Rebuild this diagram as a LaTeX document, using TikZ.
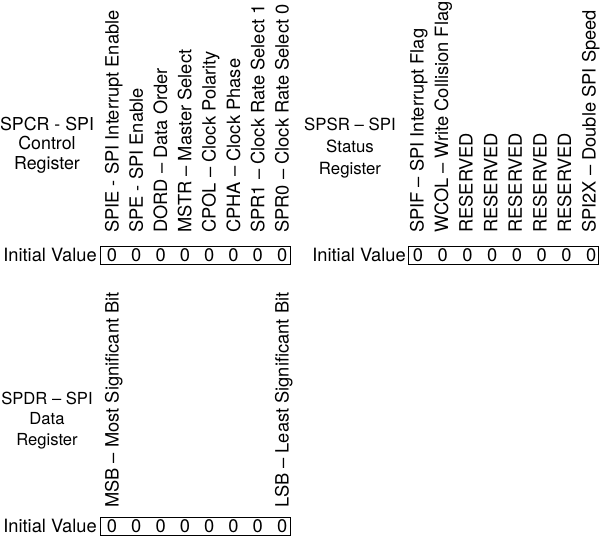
\documentclass[tikz,border=0pt]{standalone}
\usepackage{fontspec}
\setmainfont{TeX Gyre Heros}
\usetikzlibrary{positioning}

\begin{document}
\begin{tikzpicture}[
x=1pt, y=-1pt,
every node/.style={inner sep=0, font=\fontsize{18.3}{21}\selectfont},
bitname/.style={rotate=90, anchor=base west},
bitval/.style={anchor=base},
regbox/.style={draw, line width=1.3pt, minimum width=190pt, minimum height=18pt, anchor=north west},
regtitle/.style={align=center, font=\fontsize{17.8}{19.5}\selectfont}
]
\useasboundingbox (0,0) rectangle (600,539);

% SPCR
\node[regtitle] (spcr) at (47,145) {SPCR - SPI\\Control\\Register};
\node[regbox] (spcrbox) at (100,246) {};
\node[anchor=base east] (spcrinit) at (97,261) {Initial Value};
\foreach \txt [count=\i from 0] in {SPIE - SPI Interrupt Enable, SPE - SPI Enable, DORD -- Data Order, MSTR -- Master Select, CPOL -- Clock Polarity, CPHA -- Clock Phase, SPR1 -- Clock Rate Select 1, SPR0 -- Clock Rate Select 0}
{
  \node[bitval] (spcr\i) at (112+24.3*\i,261) {0};
  \node[bitname] (spcrn\i) at (118.5+24.3*\i,233) {\txt};
}

% SPSR
\node[regtitle, font=\fontsize{16.8}{22}\selectfont] (spsr) at (350,148) {SPSR -- SPI\\Status\\Register};
\node[regbox] (spsrbox) at (408,246) {};
\node[anchor=base east] (spsrinit) at (406,261) {Initial Value};
\foreach \txt [count=\i from 0] in {SPIF -- SPI Interrupt Flag, WCOL -- Write Collision Flag, RESERVED, RESERVED, RESERVED, RESERVED, RESERVED, SPI2X -- Double SPI Speed}
{
  \node[bitval] (spsr\i) at (418+24.75*\i,261) {0};
  \node[bitname] (spsrn\i) at (423.5+24.6*\i,233) {\txt};
}

% SPDR
\node[regtitle, font=\fontsize{16.6}{20.5}\selectfont] (spdr) at (47,420.5) {SPDR -- SPI\\Data\\Register};
\node[regbox] (spdrbox) at (100,517) {};
\node[anchor=base east] (spdrinit) at (97,532) {Initial Value};
\foreach \i in {0,...,7}
  \node[bitval] (spdr\i) at (112+24.3*\i,532) {0};
\node[bitname] (msb) at (118.5,508) {MSB -- Most Significant Bit};
\node[bitname] (lsb) at (118.5+24.3*7,508) {LSB -- Least Significant Bit};
\end{tikzpicture}
\end{document}
